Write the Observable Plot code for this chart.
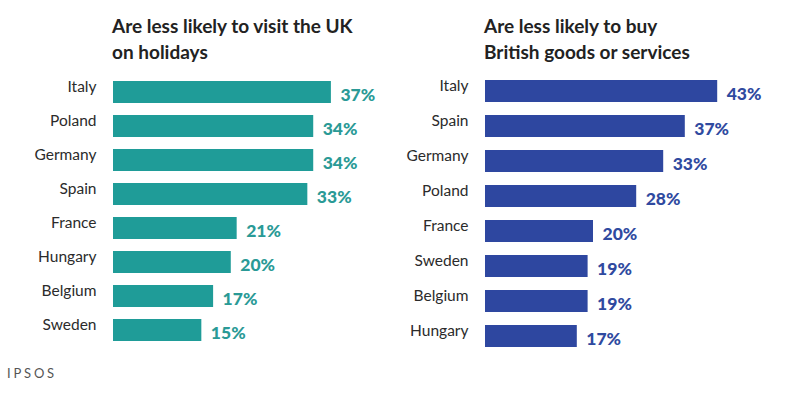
<!DOCTYPE html>
<html>
<head>
<meta charset="utf-8">
<script src="https://cdn.jsdelivr.net/npm/d3@7"></script>
<script src="https://cdn.jsdelivr.net/npm/@observablehq/plot@0.6"></script>
<style>
  html, body { margin: 0; padding: 0; background: #fff; }
  #wrap { position: relative; width: 788px; height: 394px; overflow: hidden; font-family: Lato, "Open Sans", sans-serif; }
  .panel { position: absolute; top: 0; width: 394px; height: 394px; }
  .title { position: absolute; top: 13px; font-weight: bold; font-size: 19px; line-height: 26px; color: #222; white-space: nowrap; }
  .caption { position: absolute; left: 7px; top: 365px; font-size: 13px; letter-spacing: 2.8px; color: #555; }
  svg { position: absolute; top: 0; left: 0; }
</style>
</head>
<body>
<div id="wrap">
  <div class="panel" id="left"><div class="title" style="left:112px">Are less likely to visit the UK<br>on holidays</div></div>
  <div class="panel" id="right" style="left:394px"><div class="title" style="left:90px">Are less likely to buy<br>British goods or services</div></div>
  <div class="caption">IPSOS</div>
</div>
<script>
const holidayCountries = ["Italy", "Poland", "Germany", "Spain", "France", "Hungary", "Belgium", "Sweden"];
const holidayValues = [37, 34, 34, 33, 21, 20, 17, 15];
const goodsCountries = ["Italy", "Spain", "Germany", "Poland", "France", "Sweden", "Belgium", "Hungary"];
const goodsValues = [43, 37, 33, 28, 20, 19, 19, 17];

function panel(countries, values, opts) {
  const data = countries.map((c, i) => ({country: c, value: values[i]}));
  return Plot.plot({
    width: 394,
    height: 394,
    marginLeft: opts.marginLeft,
    marginRight: opts.marginRight,
    marginTop: 0,
    marginBottom: 0,
    style: {fontFamily: "Lato, 'Open Sans', sans-serif", background: "transparent"},
    x: {domain: opts.xDomain, axis: null},
    y: {type: "band", domain: countries, range: opts.yRange, paddingInner: opts.pad, paddingOuter: opts.pad / 2, axis: null},
    marks: [
      Plot.barX(data, {x: "value", y: "country", fill: opts.color}),
      Plot.text(data, {x: 0, y: "country", text: "country", textAnchor: "end", dx: -17, dy: -5, fontSize: 15.5, fill: "#2b2b2b"}),
      Plot.text(data, {x: "value", y: "country", text: d => d.value + "%", textAnchor: "start", dx: 9, dy: 3, fontSize: 17.5, fontWeight: 900, fill: opts.textColor})
    ]
  });
}

document.getElementById("left").appendChild(panel(holidayCountries, holidayValues, {
  marginLeft: 113, marginRight: 16, xDomain: [0, 45], yRange: [73.8, 348.2], pad: 0.36,
  color: "#1f9c98", textColor: "#2a9a96"
}));
document.getElementById("right").appendChild(panel(goodsCountries, goodsValues, {
  marginLeft: 91, marginRight: 33, xDomain: [0, 50], yRange: [73.5, 353.5], pad: 0.37,
  color: "#2e47a0", textColor: "#2f4aa0"
}));
</script>
</body>
</html>
